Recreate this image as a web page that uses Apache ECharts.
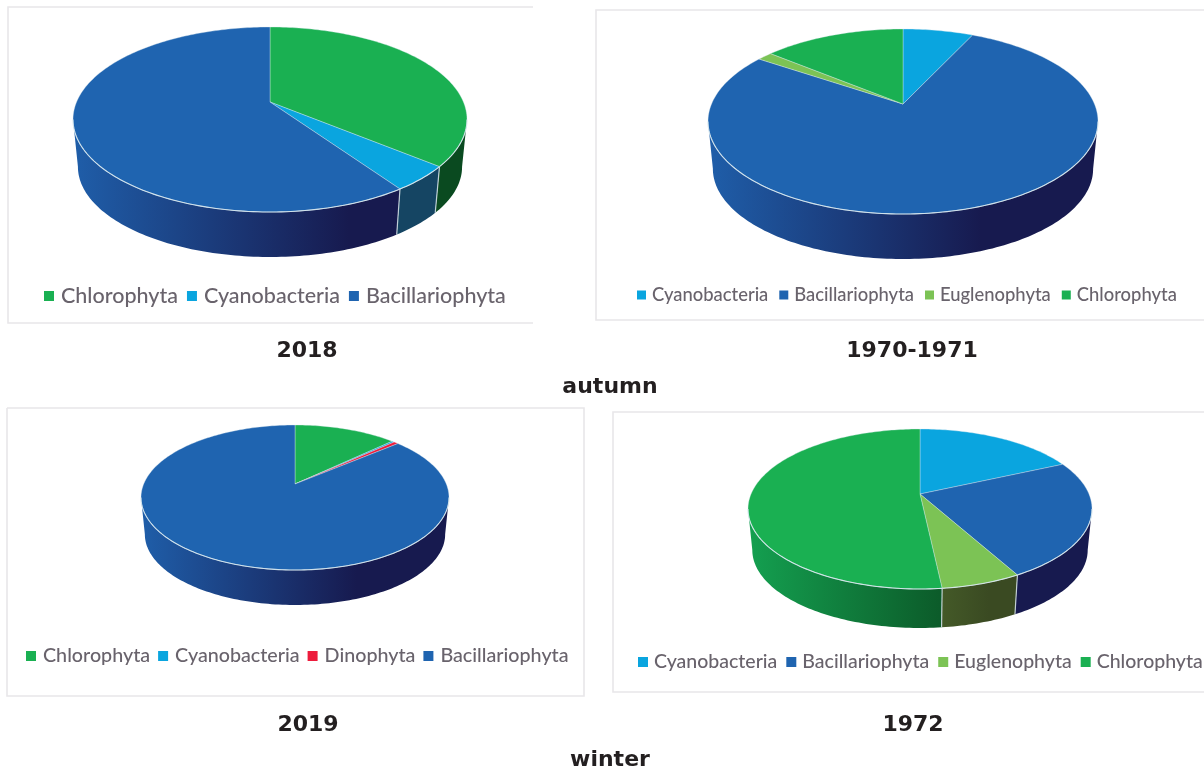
<!DOCTYPE html>
<html>
<head>
<meta charset="utf-8">
<style>
  html, body { margin: 0; padding: 0; background: #fff; }
  #chart { width: 1204px; height: 769px; }
</style>
<script src="https://cdn.jsdelivr.net/npm/echarts@6/dist/echarts.min.js"></script>
</head>
<body>
<div id="chart"></div>
<script>
// values, % of each pie, clockwise from 12 o'clock
const names2018 = ['Chlorophyta', 'Cyanobacteria', 'Bacillariophyta']
const values2018 = [36, 4.4, 59.6]
const names1970 = ['Cyanobacteria', 'Bacillariophyta', 'Euglenophyta', 'Chlorophyta']
const values1970 = [7, 77.4, 1.5, 14.1]
const names2019 = ['Chlorophyta', 'Cyanobacteria', 'Dinophyta', 'Bacillariophyta']
const values2019 = [12.9, 0.3, 0.6, 86.2]
const names1972 = ['Cyanobacteria', 'Bacillariophyta', 'Euglenophyta', 'Chlorophyta']
const values1972 = [18.2, 23.8, 6.3, 51.7]
const captions = ['2018', '1970-1971', 'autumn', '2019', '1972', 'winter']

const COLORS = {
  Chlorophyta: { top: '#1ab052', wallL: '#14a050', wallR: '#0a4a20' },
  Cyanobacteria: { top: '#0aa5df', wallL: '#0a86b8', wallR: '#154563' },
  Bacillariophyta: { top: '#1f64b0', wallL: '#1f5ea9', wallR: '#171a4f' },
  Euglenophyta: { top: '#7cc355', wallL: '#6d9a40', wallR: '#3a4a22' },
  Dinophyta: { top: '#ed1c3c', wallL: '#a01428', wallR: '#500a14' },
}

// layout of each pie: apex, half width, apex-to-back, apex-to-front, front edge of the base
const pies = [
  { names: names2018, values: values2018, cx: 270, apexY: 102, rx: 197, back: 75, front: 110, base: 257,
    legend: { left: 44, top: 285, size: 21.5, gap: 9, mark: 10, pad: 2 } },
  { names: names1970, values: values1970, cx: 903, apexY: 104, rx: 195, back: 75, front: 110, base: 259,
    legend: { left: 637, top: 286, size: 18.4, gap: 11, mark: 9, pad: 1 } },
  { names: names2019, values: values2019, cx: 295, apexY: 484, rx: 154, back: 59, front: 86, base: 605,
    legend: { left: 26, top: 646, size: 19.7, gap: 8, mark: 10, pad: 2 } },
  { names: names1972, values: values1972, cx: 920, apexY: 494, rx: 172, back: 65, front: 95, base: 628,
    legend: { left: 638, top: 652, size: 19.5, gap: 9, mark: 10, pad: 1 } },
]

const WALL_SCALE = 0.975

// Excel style perspective: the circle maps to an ellipse, the apex sits above its middle
function projector(p) {
  const ratio = p.front / p.back
  const k = (ratio - 1) / (ratio + 1)
  const a = p.back * (1 + k)
  const b = p.rx * Math.sqrt(1 - k * k)
  const drop = p.base - p.apexY - p.front * WALL_SCALE
  const rim = (t) => {
    const w = 1 + k * Math.cos(t)
    return [p.cx + (b * Math.sin(t)) / w, p.apexY - (a * Math.cos(t)) / w]
  }
  const foot = (t) => {
    const q = rim(t)
    return [p.cx + (q[0] - p.cx) * WALL_SCALE, p.apexY + drop + (q[1] - p.apexY) * WALL_SCALE]
  }
  // front wall shows between the two silhouette points
  const from = Math.acos(-k)
  return { rim, foot, from, to: 2 * Math.PI - from }
}

function arc(fn, t0, t1) {
  const n = Math.max(2, Math.ceil(Math.abs(t1 - t0) / 0.02))
  const pts = []
  for (let i = 0; i <= n; i++) pts.push(fn(t0 + ((t1 - t0) * i) / n))
  return pts
}

function sliceRenderer(p, idx) {
  const proj = projector(p)
  const total = p.values.reduce((s, v) => s + v, 0)
  const before = p.values.slice(0, idx).reduce((s, v) => s + v, 0)
  const t0 = (before / total) * 2 * Math.PI
  const t1 = ((before + p.values[idx]) / total) * 2 * Math.PI
  const col = COLORS[p.names[idx]]
  return function () {
    const children = []
    const w0 = Math.max(t0, proj.from)
    const w1 = Math.min(t1, proj.to)
    if (w1 > w0) {
      const rimPts = arc(proj.rim, w0, w1)
      const footPts = arc(proj.foot, w1, w0)
      children.push({
        type: 'polygon',
        shape: { points: rimPts.concat(footPts) },
        style: {
          fill: new echarts.graphic.LinearGradient(p.cx - p.rx, 0, p.cx + p.rx, 0, [
            { offset: 0, color: col.wallL },
            { offset: 0.7, color: col.wallR },
            { offset: 1, color: col.wallR },
          ], true),
        },
      })
      if (t0 > proj.from) {
        children.push(edge(proj.rim(t0), proj.foot(t0)))
      }
    }
    children.push({
      type: 'polygon',
      shape: { points: [[p.cx, p.apexY]].concat(arc(proj.rim, t0, t1)) },
      style: { fill: col.top, stroke: 'rgba(225,235,240,0.45)', lineWidth: 0.8 },
    })
    if (w1 > w0) {
      children.push({
        type: 'polyline',
        shape: { points: arc(proj.rim, w0, w1) },
        style: { fill: null, stroke: 'rgba(215,232,238,0.9)', lineWidth: 1.1 },
      })
    }
    return { type: 'group', children }
  }
}

function edge(a, b) {
  return {
    type: 'line',
    shape: { x1: a[0], y1: a[1], x2: b[0], y2: b[1] },
    style: { stroke: 'rgba(205,220,225,0.9)', lineWidth: 1.2 },
  }
}

const series = []
pies.forEach((p) => {
  p.names.forEach((name, i) => {
    series.push({
      type: 'custom',
      name,
      coordinateSystem: 'none',
      data: [p.values[i]],
      itemStyle: { color: COLORS[name].top },
      renderItem: sliceRenderer(p, i),
      silent: true,
      animation: false,
    })
  })
})

const legends = pies.map((p) => ({
  data: p.names,
  left: p.legend.left,
  top: p.legend.top,
  icon: 'rect',
  itemWidth: p.legend.mark,
  itemHeight: p.legend.mark,
  itemGap: p.legend.gap,
  selectedMode: false,
  padding: 0,
  textStyle: {
    fontFamily: 'Lato',
    fontWeight: 500,
    fontSize: p.legend.size,
    color: '#69636c',
    padding: [0, 0, 0, p.legend.pad],
  },
}))

const captionAt = [[307, 340], [912, 340], [610, 376], [308, 714], [913, 714], [610, 749]]
const titles = captions.map((text, i) => ({
  text,
  left: captionAt[i][0],
  top: captionAt[i][1],
  textAlign: 'center',
  padding: 0,
  textStyle: { fontFamily: 'DejaVu Sans', fontWeight: 'bold', fontSize: 22, color: '#231f20' },
}))

const frameStyle = { fill: null, stroke: '#e8e6e9', lineWidth: 1.6 }
const frames = [
  [[533, 7], [8, 7], [8, 323], [533, 323]],
  [[1204, 10], [596, 10], [596, 320], [1204, 320]],
  [[7, 408], [584, 408], [584, 696], [7, 696], [7, 408]],
  [[1204, 412], [613, 412], [613, 692], [1204, 692]],
].map((points) => ({ type: 'polyline', shape: { points }, style: frameStyle, silent: true, z: -1 }))

const chart = echarts.init(document.getElementById('chart'))
chart.setOption({
  backgroundColor: '#fff',
  animation: false,
  title: titles,
  legend: legends,
  graphic: frames,
  series,
})
</script>
</body>
</html>
